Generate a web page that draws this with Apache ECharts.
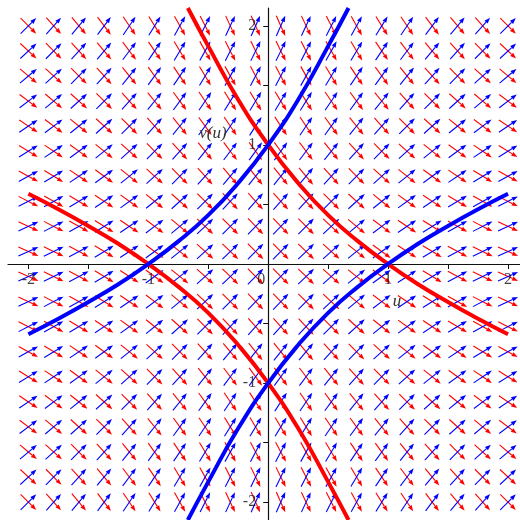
<!DOCTYPE html>
<html>
<head>
<meta charset="utf-8">
<style>
  html, body { margin: 0; padding: 0; background: #ffffff; }
  #chart { width: 520px; height: 520px; }
</style>
<script src="https://cdn.jsdelivr.net/npm/echarts@6/dist/echarts.min.js"></script>
</head>
<body>
<div id="chart"></div>
<script>
// Sample points of the direction field (20 x 20 grid)
const GRID_U = [-2, -1.789, -1.579, -1.368, -1.158, -0.947, -0.737, -0.526, -0.316, -0.105,
                0.105, 0.316, 0.526, 0.737, 0.947, 1.158, 1.368, 1.579, 1.789, 2];
const GRID_V = [2, 1.789, 1.579, 1.368, 1.158, 0.947, 0.737, 0.526, 0.316, 0.105,
                -0.105, -0.316, -0.526, -0.737, -0.947, -1.158, -1.368, -1.579, -1.789, -2];

// Arrow steepness in degrees at each grid point (rows top to bottom, columns left to right).
// Red arrows fall at this angle, blue arrows rise at it.
const ARROW_ANGLE = [
  [45,48,50,53,56,58,61,63,65,66, 66,65,63,61,58,56,53,50,48,45],
  [43,45,48,50,53,56,59,61,63,64, 64,63,61,59,56,53,50,48,45,43],
  [40,42,45,48,51,54,56,59,61,62, 62,61,59,56,54,51,48,45,42,40],
  [37,40,42,45,48,51,54,56,58,59, 59,58,56,54,51,48,45,42,40,37],
  [34,37,39,42,45,48,51,54,56,57, 57,56,54,51,48,45,42,39,37,34],
  [32,34,36,39,42,45,48,51,53,54, 54,53,51,48,45,42,39,36,34,32],
  [29,31,34,36,39,42,45,48,50,51, 51,50,48,45,42,39,36,34,31,29],
  [27,29,31,34,36,39,42,45,47,48, 48,47,45,42,39,36,34,31,29,27],
  [25,27,29,32,34,37,40,43,45,46, 46,45,43,40,37,34,32,29,27,25],
  [24,26,28,31,33,36,39,42,44,45, 45,44,42,39,36,33,31,28,26,24],
  [24,26,28,31,33,36,39,42,44,45, 45,44,42,39,36,33,31,28,26,24],
  [25,27,29,32,34,37,40,43,45,46, 46,45,43,40,37,34,32,29,27,25],
  [27,29,31,34,36,39,42,45,47,48, 48,47,45,42,39,36,34,31,29,27],
  [29,31,34,36,39,42,45,48,50,51, 51,50,48,45,42,39,36,34,31,29],
  [32,34,36,39,42,45,48,51,53,54, 54,53,51,48,45,42,39,36,34,32],
  [34,37,39,42,45,48,51,54,56,57, 57,56,54,51,48,45,42,39,37,34],
  [37,40,42,45,48,51,54,56,58,59, 59,58,56,54,51,48,45,42,40,37],
  [40,42,45,48,51,54,56,59,61,62, 62,61,59,56,54,51,48,45,42,40],
  [43,45,48,50,53,56,59,61,63,64, 64,63,61,59,56,53,50,48,45,43],
  [45,48,50,53,56,58,61,63,65,66, 66,65,63,61,58,56,53,50,48,45]
];

// Solution curves [u, v]
const RED_CURVE_A = [[-0.67,2.15],[-0.5,1.83],[-0.25,1.38],[0,1],[0.25,0.68],[0.5,0.41],
                     [0.75,0.19],[1,0],[1.25,-0.17],[1.5,-0.32],[1.75,-0.46],[2,-0.59]];
const RED_CURVE_B = [[0.67,-2.15],[0.5,-1.83],[0.25,-1.38],[0,-1],[-0.25,-0.68],[-0.5,-0.41],
                     [-0.75,-0.19],[-1,0],[-1.25,0.17],[-1.5,0.32],[-1.75,0.46],[-2,0.59]];
const BLUE_CURVE_A = [[0.67,2.15],[0.5,1.83],[0.25,1.38],[0,1],[-0.25,0.68],[-0.5,0.41],
                      [-0.75,0.19],[-1,0],[-1.25,-0.17],[-1.5,-0.32],[-1.75,-0.46],[-2,-0.59]];
const BLUE_CURVE_B = [[-0.67,-2.15],[-0.5,-1.83],[-0.25,-1.38],[0,-1],[0.25,-0.68],[0.5,-0.41],
                      [0.75,-0.19],[1,0],[1.25,0.17],[1.5,0.32],[1.75,0.46],[2,0.59]];

// Axis ticks and labels
const TICK_VALUES = [-2, -1.5, -1, -0.5, 0, 0.5, 1, 1.5, 2];
const X_LABELS = [-2, -1, 0, 1, 2];
const Y_LABELS = [2, 1, -1, -2];

const fieldData = [];
for (let r = 0; r < GRID_V.length; r++) {
  for (let c = 0; c < GRID_U.length; c++) {
    fieldData.push([GRID_U[c], GRID_V[r], ARROW_ANGLE[r][c]]);
  }
}

// Draws a fixed-length arrow centred on its grid point.
// dir = +1 points down-right on screen, -1 points up-right.
function arrowRenderer(color, dir) {
  return function (params, api) {
    const p = api.coord([api.value(0), api.value(1)]);
    const a = api.value(2) * Math.PI / 180;
    const dx = Math.cos(a), dy = dir * Math.sin(a);
    const half = 11, headLen = 6, headW = 2.2;
    const x0 = p[0] - dx * half, y0 = p[1] - dy * half;
    const x1 = p[0] + dx * half, y1 = p[1] + dy * half;
    const bx = x1 - dx * headLen, by = y1 - dy * headLen;
    return {
      type: 'group',
      children: [
        { type: 'line', shape: { x1: x0, y1: y0, x2: bx, y2: by },
          style: { stroke: color, lineWidth: 1.1 } },
        { type: 'polygon',
          shape: { points: [[x1, y1], [bx - dy * headW, by + dx * headW], [bx + dy * headW, by - dx * headW]] },
          style: { fill: color } }
      ]
    };
  };
}

const tickFont = { fontFamily: 'Liberation Serif', fontSize: 16, color: '#111' };

// Tick labels placed on the axes through the chart's own coordinate system
const xLabelData = X_LABELS.map(v => [v, 0]);
const yLabelData = Y_LABELS.map(v => [0, v]);

const chart = echarts.init(document.getElementById('chart'), null, { renderer: 'canvas' });
chart.setOption({
  animation: false,
  backgroundColor: '#ffffff',
  grid: { left: 8, right: 0, top: 8, bottom: 0, containLabel: false, outerBoundsMode: 'none' },
  xAxis: {
    type: 'value', min: -2.17, max: 2.1,
    axisLine: { show: true, onZero: true, lineStyle: { color: '#111', width: 1.2 } },
    axisTick: { show: true, customValues: TICK_VALUES, length: 5, lineStyle: { color: '#111', width: 1 } },
    axisLabel: { show: false },
    splitLine: { show: false }
  },
  yAxis: {
    type: 'value', min: -2.15, max: 2.15,
    axisLine: { show: true, onZero: true, lineStyle: { color: '#111', width: 1.2 } },
    axisTick: { show: true, customValues: TICK_VALUES, length: 5, lineStyle: { color: '#111', width: 1 } },
    axisLabel: { show: false },
    splitLine: { show: false }
  },
  graphic: [
    { type: 'text', x: 213, y: 134, z: 100, style: { text: 'v(u)', fontFamily: 'Liberation Serif', fontStyle: 'italic',
      fontSize: 17, fill: '#333', align: 'center', verticalAlign: 'middle' } },
    { type: 'text', x: 397, y: 302, z: 100, style: { text: 'u', fontFamily: 'Liberation Serif', fontStyle: 'italic',
      fontSize: 17, fill: '#333', align: 'center', verticalAlign: 'middle' } }
  ],
  series: [
    { type: 'custom', name: 'red field', renderItem: arrowRenderer('#ff0000', 1), data: fieldData, z: 2 },
    { type: 'custom', name: 'blue field', renderItem: arrowRenderer('#0000ff', -1), data: fieldData, z: 3 },
    { type: 'line', data: RED_CURVE_A, smooth: true, showSymbol: false, lineStyle: { color: '#ff0000', width: 4 }, z: 4 },
    { type: 'line', data: RED_CURVE_B, smooth: true, showSymbol: false, lineStyle: { color: '#ff0000', width: 4 }, z: 4 },
    { type: 'line', data: BLUE_CURVE_A, smooth: true, showSymbol: false, lineStyle: { color: '#0000ff', width: 4 }, z: 5 },
    { type: 'line', data: BLUE_CURVE_B, smooth: true, showSymbol: false, lineStyle: { color: '#0000ff', width: 4 }, z: 5 },
    {
      type: 'scatter', name: 'x tick labels', data: xLabelData, symbolSize: 0, silent: true, z: 6,
      label: {
        show: true, position: 'bottom', distance: 8, ...tickFont,
        formatter: p => String(p.value[0])
      },
      labelLayout: p => (p.dataIndex === 2 ? { dx: -7 } : {})
    },
    {
      type: 'scatter', name: 'y tick labels', data: yLabelData, symbolSize: 0, silent: true, z: 6,
      label: {
        show: true, position: 'left', distance: 12, ...tickFont,
        formatter: p => String(p.value[1])
      }
    }
  ]
});
</script>
</body>
</html>
